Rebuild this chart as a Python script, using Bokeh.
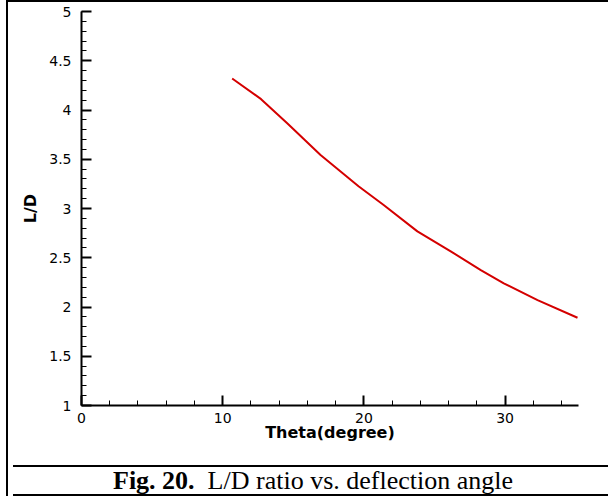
from bokeh.plotting import figure
from bokeh.models import FixedTicker, Range1d, Div
from bokeh.layouts import column
from bokeh.embed import file_html
from bokeh.resources import INLINE

# ---- data ----
theta = [10.67, 12.72, 14.57, 16.93, 19.62, 21.40, 23.79, 26.15, 28.28, 29.91, 32.30, 35.13]
ld_ratio = [4.32, 4.11, 3.866, 3.544, 3.226, 3.036, 2.768, 2.565, 2.375, 2.240, 2.070, 1.891]

x_major = [0, 10, 20, 30]
x_minor = [2, 4, 6, 8, 12, 14, 16, 18, 22, 24, 26, 28, 32, 34]
x_labels = ["0", "10", "20", "30"]
y_major = [1, 1.5, 2, 2.5, 3, 3.5, 4, 4.5, 5]
y_minor = [round(1 + 0.1 * i, 1) for i in range(41)]
y_labels = ["1", "1.5", "2", "2.5", "3", "3.5", "4", "4.5", "5"]

x_title = "Theta(degree)"
y_title = "L/D"
caption_bold = "Fig. 20."
caption_text = "L/D ratio vs. deflection angle"

p = figure(width=598, height=458, output_backend="svg", toolbar_location=None,
           x_range=Range1d(0, 35.2), y_range=Range1d(1, 5),
           min_border_left=73, min_border_right=28, min_border_top=9, min_border_bottom=55)
p.outline_line_color = None
p.grid.visible = False
p.background_fill_color = "white"
p.border_fill_color = "white"

p.line(theta, ld_ratio, line_color="#d40000", line_width=2)

for ax, maj, mnr, labs in ((p.xaxis[0], x_major, x_minor, x_labels), (p.yaxis[0], y_major, y_minor, y_labels)):
    ax.ticker = FixedTicker(ticks=maj, minor_ticks=mnr)
    ax.major_label_overrides = {t: l for t, l in zip(maj, labs)}
    ax.axis_line_width = 2
    ax.axis_line_color = "black"
    ax.major_tick_in = 10
    ax.major_tick_out = 0
    ax.minor_tick_in = 5
    ax.minor_tick_out = 0
    ax.major_tick_line_width = 2
    ax.minor_tick_line_width = 1
    ax.major_tick_line_color = "black"
    ax.minor_tick_line_color = "black"
    ax.major_label_text_font = "DejaVu Sans"
    ax.major_label_text_font_size = "14px"
    ax.major_label_text_color = "black"
    ax.axis_label_text_font = "DejaVu Sans"
    ax.axis_label_text_font_size = "16px"
    ax.axis_label_text_font_style = "bold"
    ax.axis_label_text_color = "black"

p.xaxis[0].axis_label = x_title
p.yaxis[0].axis_label = y_title
p.xaxis[0].major_label_standoff = 7
p.xaxis[0].axis_label_standoff = -3
p.yaxis[0].major_label_standoff = 10
p.yaxis[0].axis_label_standoff = 6

caption = Div(
    text=f"<b>{caption_bold}</b>&nbsp;&nbsp;{caption_text}",
    width=598, height=27,
    styles={"border-top": "2px solid black", "border-bottom": "2px solid black",
            "font-family": "'Liberation Serif', 'Times New Roman', serif",
            "font-size": "26px", "line-height": "28px", "color": "black",
            "padding-left": "100px", "box-sizing": "content-box"},
)

layout = column(p, caption, spacing=0,
                styles={"border-left": "2px solid black", "border-right": "2px solid black",
                        "border-top": "2px solid black",
                        "margin-left": "6px", "background-color": "white"})

open("out.html", "w").write(file_html(layout, INLINE))
